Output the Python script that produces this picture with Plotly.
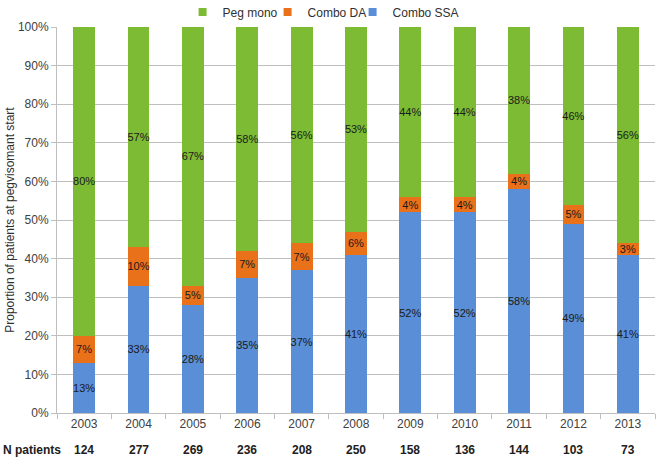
import plotly.graph_objects as go

years = ["2003", "2004", "2005", "2006", "2007", "2008", "2009", "2010", "2011", "2012", "2013"]
combo_ssa = [13, 33, 28, 35, 37, 41, 52, 52, 58, 49, 41]
combo_da = [7, 10, 5, 7, 7, 6, 4, 4, 4, 5, 3]
peg_mono = [80, 57, 67, 58, 56, 53, 44, 44, 38, 46, 56]
n_patients = [124, 277, 269, 236, 208, 250, 158, 136, 144, 103, 73]

GREEN = "#7DBB35"
ORANGE = "#E8711A"
BLUE = "#5A8FD7"
label_font = dict(family="Liberation Sans Narrow, Arial Narrow, Liberation Sans, Arial", size=11, color="#1a1a1a")

series = [("Combo SSA", combo_ssa, BLUE), ("Combo DA", combo_da, ORANGE), ("Peg mono", peg_mono, GREEN)]

fig = go.Figure()
for name, vals, col in series:
    fig.add_trace(go.Bar(
        x=years, y=vals, name=name, marker=dict(color=col, line=dict(width=0)),
        text=[f"{v}%" for v in vals], textposition="inside", insidetextanchor="middle",
        textangle=0, textfont=label_font, width=0.4, showlegend=False,
    ))
# invisible trailing legend spacer (keeps last entry from being clipped)
fig.add_trace(go.Scatter(x=[None], y=[None], mode="markers", name=" ",
                         marker=dict(size=1, color="rgba(0,0,0,0)"), showlegend=True, hoverinfo="skip"))
# legend-only entries with small square swatches
for name, vals, col in series:
    fig.add_trace(go.Scatter(x=[None], y=[None], mode="markers", name=name,
                             marker=dict(symbol="square", size=8, color=col), showlegend=True))

fig.update_layout(
    barmode="stack",
    width=661, height=458,
    margin=dict(l=57, r=6, t=27, b=45, autoexpand=False),
    paper_bgcolor="white", plot_bgcolor="white",
    font=dict(family="Liberation Sans, Arial", size=12, color="#404040"),
    uniformtext=dict(minsize=11, mode="show"),
    legend=dict(orientation="h", traceorder="reversed", x=0.21, xanchor="left",
                yref="container", y=0.974, yanchor="middle",
                font=dict(size=12, color="#303030"), itemwidth=30, entrywidth=40, entrywidthmode="pixels",
                bgcolor="rgba(0,0,0,0)"),
    showlegend=True,
)
fig.update_yaxes(range=[0, 100], dtick=10, ticksuffix="%", showgrid=True, gridcolor="#BFBFBF", gridwidth=1,
                 showline=True, linecolor="#BFBFBF", ticks="outside", ticklen=5, tickcolor="#BFBFBF",
                 zeroline=False, tickfont=dict(size=12, color="#404040"), automargin=False)
fig.update_xaxes(type="category", range=[-0.5, len(years) - 0.5], showline=True, linecolor="#BFBFBF",
                 ticks="outside", tickson="boundaries", ticklen=5, automargin=False,
                 tickcolor="#BFBFBF", tickfont=dict(size=12, color="#404040"), showgrid=False)

fig.add_annotation(text="Proportion of patients at pegvisomant start", textangle=-90,
                   xref="paper", yref="paper", x=-0.079, xanchor="center", y=0.5, showarrow=False,
                   font=dict(size=12, color="#303030"))
fig.add_annotation(text="<b>N patients</b>", xref="paper", yref="paper", x=-0.093, xanchor="left",
                   y=-0.097, yanchor="middle", showarrow=False, font=dict(size=12, color="#202020"))
for i, n in enumerate(n_patients):
    fig.add_annotation(text=f"<b>{n}</b>", xref="x", yref="paper", x=i, y=-0.097, yanchor="middle",
                       showarrow=False, font=dict(size=12, color="#202020"))

fig.write_html("out.html", config={"displayModeBar": False},
               post_script="document.body.style.margin='0';")
